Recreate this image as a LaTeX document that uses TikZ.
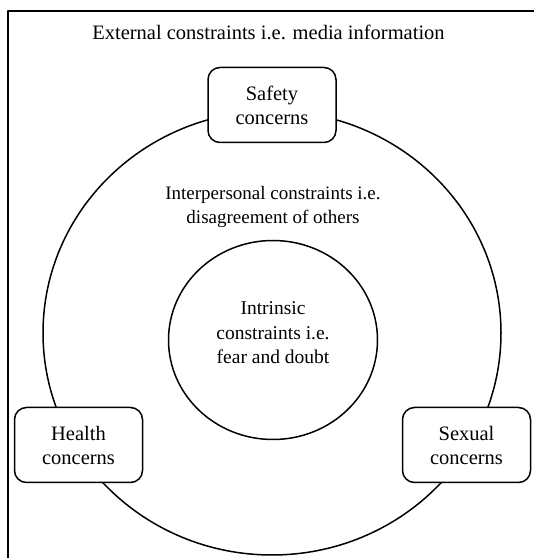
\documentclass[tikz,border=0pt]{standalone}
\usepackage{fontspec}
\setmainfont{Liberation Serif}
\usepackage{tikz}
\usetikzlibrary{shapes}

\begin{document}
\begin{tikzpicture}[line join=bevel,line width=1.5bp,
  font=\fontsize{19bp}{24.5bp}\selectfont,
  concern/.style={draw,fill=white,rounded corners=12bp,align=center,
    font=\fontsize{20.5bp}{24bp}\selectfont,
    minimum width=128bp,minimum height=75bp,inner sep=2bp}]
%%
\clip (0bp,0bp) rectangle (534bp,558bp);
\draw (8bp,-20bp) rectangle (560bp,547bp);
\node (ext) at (268.5bp,526bp) [font=\fontsize{20.5bp}{24.5bp}\selectfont] {External constraints i.e. media information};
  \node (outer) at (272bp,225bp) [draw,ellipse,inner sep=0pt,minimum width=458bp,minimum height=444bp] {};
  \node (inner) at (273bp,218bp) [draw,ellipse,inner sep=0pt,minimum width=209bp,minimum height=199bp] {};
  \node (inter) at (273bp,351bp) [align=center] {Interpersonal constraints i.e.\\disagreement of others};
  \node (intr) at (273bp,225bp) [align=center,font=\fontsize{19.5bp}{24.5bp}\selectfont] {Intrinsic\\constraints i.e.\\fear and doubt};
  \node (safety) at (272bp,453bp) [concern] {Safety\\concerns};
  \node (health) at (78.5bp,113bp) [concern] {Health\\concerns};
  \node (sexual) at (466.5bp,113bp) [concern] {Sexual\\concerns};
%
\end{tikzpicture}
\end{document}
